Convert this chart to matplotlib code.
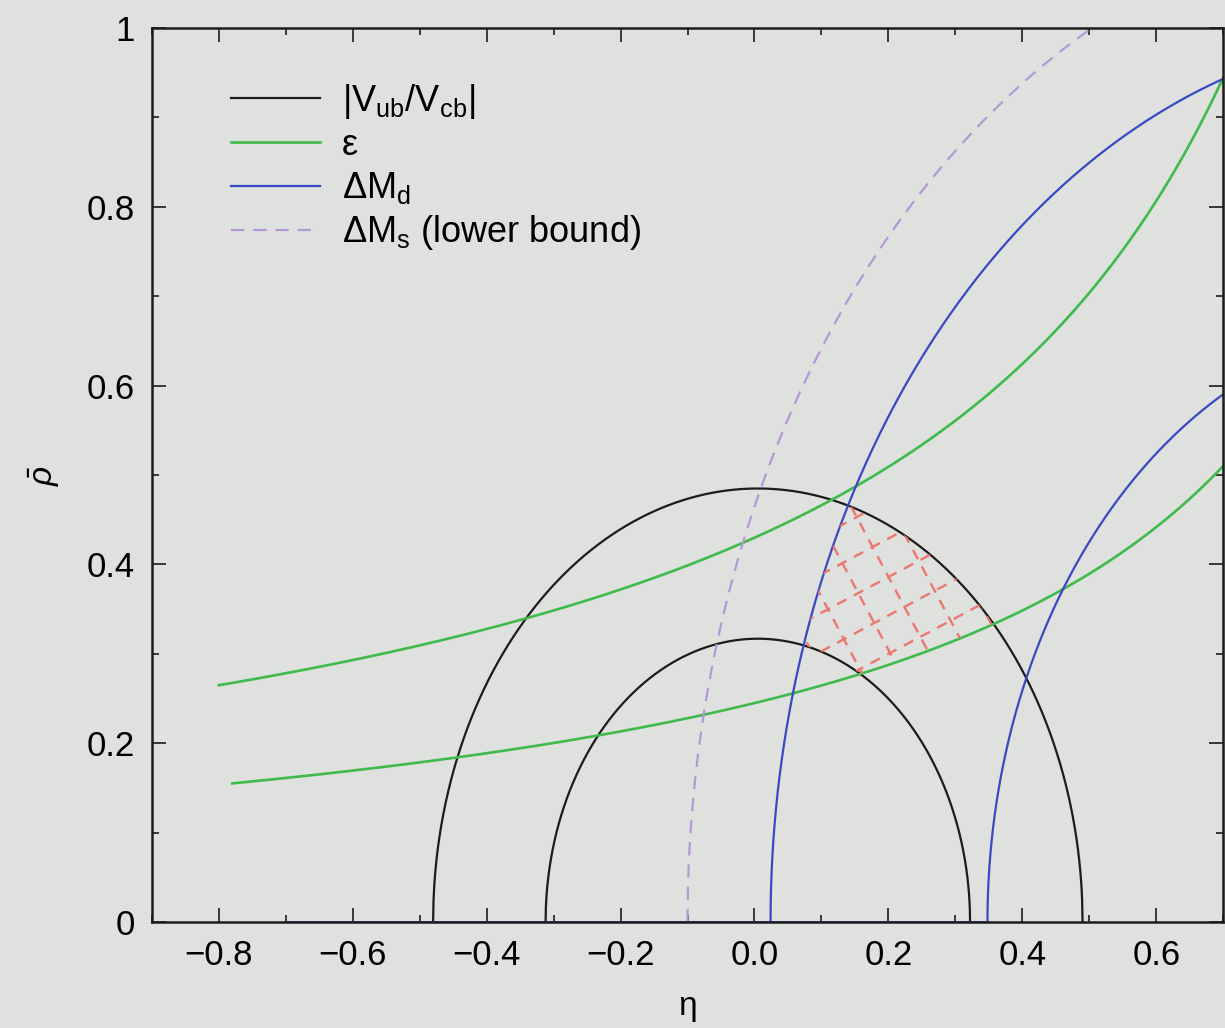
import numpy as np
import matplotlib
matplotlib.use("Agg")
import matplotlib.pyplot as plt
from matplotlib.patches import PathPatch

plt.rcParams['font.family'] = ['Liberation Sans', 'DejaVu Sans']
plt.rcParams['mathtext.fontset'] = 'custom'
plt.rcParams['mathtext.rm'] = 'Liberation Sans'
plt.rcParams['mathtext.it'] = 'Liberation Sans:italic'

# |Vub/Vcb| : circles around (centre, 0)
vub_centre = 0.005
vub_radii = [0.485, 0.317]
# epsilon : hyperbolas  y = k / (a - x), drawn from x_start
eps_k = [0.5525, 0.33]
eps_a = [1.285, 1.347]
eps_start = [-0.80, -0.78]
# Delta M_d : circles around (centre, 0)
dmd_centres = [1.02, 1.019]
dmd_radii = [0.996, 0.671]
# Delta M_s lower bound : circle around (centre, 0)
dms_centre = 1.03
dms_radius = 1.13

xticks = [-0.8, -0.6, -0.4, -0.2, 0.0, 0.2, 0.4, 0.6]
xticklabels = ['\u22120.8', '\u22120.6', '\u22120.4', '\u22120.2', '0.0', '0.2', '0.4', '0.6']
yticks = [0, 0.2, 0.4, 0.6, 0.8, 1.0]
yticklabels = ['0', '0.2', '0.4', '0.6', '0.8', '1']

bg = '#dee1dd'
c_black = '#1c1c1c'
c_green = '#3fba4c'
c_blue = '#3a48c4'
c_dms = '#b399d6'
c_hatch = '#ec7770'

fig = plt.figure(figsize=(12.25, 10.28), dpi=100, facecolor=bg)
ax = fig.add_axes([0.124, 0.103, 0.8745, 0.8697], facecolor=bg)

# |Vub/Vcb|
for i, r in enumerate(vub_radii):
    x = np.linspace(vub_centre - r, vub_centre + r, 1500)
    y = np.sqrt(np.clip(r**2 - (x - vub_centre)**2, 0, None))
    ax.plot(x, y, color=c_black, lw=1.6, label=r'|V$_{\mathrm{ub}}$/V$_{\mathrm{cb}}$|' if i == 0 else None)

# epsilon
for i in range(len(eps_k)):
    x = np.linspace(eps_start[i], 0.7, 500)
    ax.plot(x, eps_k[i] / (eps_a[i] - x), color=c_green, lw=1.9, label='\u03b5' if i == 0 else None)

# Delta M_d
for i, (c, r) in enumerate(zip(dmd_centres, dmd_radii)):
    x = np.concatenate([np.linspace(-0.7, c - r, 200),
                        c - r + np.geomspace(1e-6, 0.7 - c + r, 1500)])
    y = np.sqrt(np.clip(r**2 - (x - c)**2, 0, None))
    ax.plot(x, y, color=c_blue, lw=1.6, label='\u0394M$_{\\mathrm{d}}$' if i == 0 else None)

# Delta M_s lower bound
yy = np.linspace(0, 1.0, 600)
ax.plot(dms_centre - np.sqrt(dms_radius**2 - yy**2), yy, color=c_dms, lw=1.6,
        dashes=(6, 4), label='\u0394M$_{\\mathrm{s}}$ (lower bound)')

# allowed region (hatched)
gx, gy = np.meshgrid(np.linspace(-0.1, 0.5, 700), np.linspace(0.15, 0.55, 700))
r0 = np.hypot(gx - vub_centre, gy)
mask = ((r0 < vub_radii[0]) & (r0 > vub_radii[1])
        & (gy > eps_k[1] / (eps_a[1] - gx))
        & (np.hypot(gx - dmd_centres[0], gy) < dmd_radii[0])).astype(float)
cs = ax.contourf(gx, gy, mask, levels=[0.5, 1.5], colors='none')
clip = PathPatch(cs.get_paths()[0], transform=ax.transData, facecolor='none', edgecolor='none')
ax.add_patch(clip)
xs = np.array([-0.2, 0.6])
for c in np.arange(0.005, 0.6, 0.043):
    ln, = ax.plot(xs, c + 0.40 * xs, color=c_hatch, lw=1.7, dashes=(4.5, 3.5))
    ln.set_clip_path(clip)
for c in np.arange(0.01, 0.8, 0.058):
    ln, = ax.plot(xs, 1.41 * (c - xs), color=c_hatch, lw=1.7, dashes=(4.5, 3.5))
    ln.set_clip_path(clip)

ax.set_xlim(-0.9, 0.7)
ax.set_ylim(0, 1)
ax.set_xticks(xticks)
ax.set_xticklabels(xticklabels)
ax.set_yticks(yticks)
ax.set_yticklabels(yticklabels)
ax.set_xticks(np.arange(-0.9, 0.71, 0.1), minor=True)
ax.set_yticks(np.arange(0.1, 1.0, 0.2), minor=True)
ax.tick_params(which='both', direction='in', top=True, right=True, labelsize=25,
               width=1.2, color=c_black)
ax.tick_params(which='major', length=10, pad=12)
ax.tick_params(which='minor', length=5)
for s in ax.spines.values():
    s.set_linewidth(1.8)
    s.set_color(c_black)

ax.set_xlabel('\u03b7', fontsize=24, labelpad=14)
ax.set_ylabel(r'$\bar{\rho}$', fontsize=24, labelpad=18)

ax.legend(loc='upper left', bbox_to_anchor=(0.074, 0.94), frameon=False, fontsize=26,
          handlelength=2.45, handletextpad=0.62, labelspacing=0.2, borderpad=0,
          borderaxespad=0)

fig.savefig('out.png', dpi=100, facecolor=bg)
